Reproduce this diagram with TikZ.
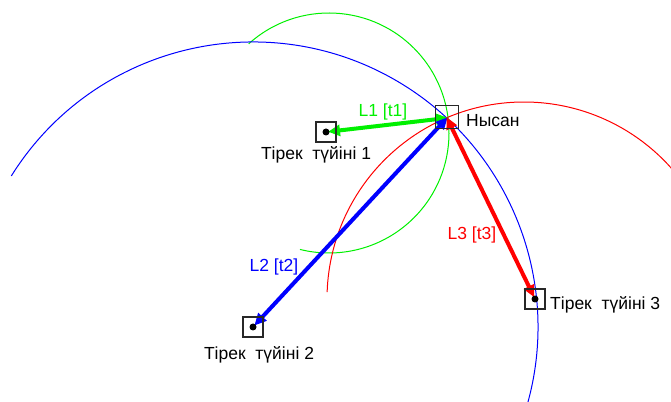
\documentclass[tikz,border=0pt]{standalone}
\usepackage{fontspec}
\setmainfont{Liberation Sans}
\usetikzlibrary{arrows.meta}
\definecolor{cgreen}{RGB}{0,240,0}
\definecolor{cblue}{RGB}{0,0,255}
\definecolor{cred}{RGB}{255,0,0}
\definecolor{boxc}{RGB}{40,40,40}
\tikzset{
  circ/.style={line width=1pt},
  vec/.style={line width=4pt,{Triangle[length=12pt,width=11pt]}-{Triangle[length=12pt,width=11pt]},shorten <=-1pt,shorten >=2pt},
  anchorbox/.style={draw=boxc,line width=1.1pt,minimum size=20pt,inner sep=0pt,fill=none},
  targetbox/.style={draw=boxc,line width=1.1pt,minimum size=23pt,inner sep=0pt,fill=none},
  dot/.style={circle,fill=black,inner sep=0pt,minimum size=7pt},
  lbl/.style={font=\fontsize{17.5}{20}\selectfont,inner sep=0pt}
}
\begin{document}
\begin{tikzpicture}[x=1pt,y=1pt]
\useasboundingbox (0,0) rectangle (671,401);
\clip (0,0) rectangle (671,401);
% positions
\coordinate (t) at (447,283);
\coordinate (p1) at (326,269);
\coordinate (p2) at (253,74);
\coordinate (p3) at (535,102);
\coordinate (cg) at (329,268);
\coordinate (cb) at (253,74);
\coordinate (cr) at (524,102);
% circles
\draw[circ,cgreen] (cg) ++(132:120) arc[start angle=132,end angle=-104,radius=120];
\draw[circ,cblue] (cb) ++(148:285) arc[start angle=148,end angle=-20,radius=285];
\draw[circ,cred] (cr) ++(178:197) arc[start angle=178,end angle=25,radius=197];
% vectors
\draw[vec,cgreen] (t) -- (p1);
\draw[vec,cblue] (t) -- (p2);
\draw[vec,cred] (t) -- (p3);
% boxes and dots
\node[targetbox] (tb) at (447,284) {};
\node[anchorbox] (b1) at (p1) {};
\node[anchorbox] (b2) at (p2) {};
\node[anchorbox] (b3) at (p3) {};
\node[dot] (d1) at (p1) {};
\node[dot] (d2) at (p2) {};
\node[dot] (d3) at (p3) {};
% labels
\node[lbl,anchor=base,text=cgreen] (l1) at (383,284) {L1 [t1]};
\node[lbl,anchor=base,text=cblue] (l2) at (274,129) {L2 [t2]};
\node[lbl,anchor=base,text=cred] (l3) at (472,161) {L3 [t3]};
\node[lbl,anchor=base west] (nt) at (466,274) {Нысан};
\node[lbl,anchor=base] (n1) at (316,241) {Тірек~ түйіні 1};
\node[lbl,anchor=base] (n2) at (259,41) {Тірек~ түйіні 2};
\node[lbl,anchor=base west] (n3) at (550,91) {Тірек~ түйіні 3};
\end{tikzpicture}
\end{document}
